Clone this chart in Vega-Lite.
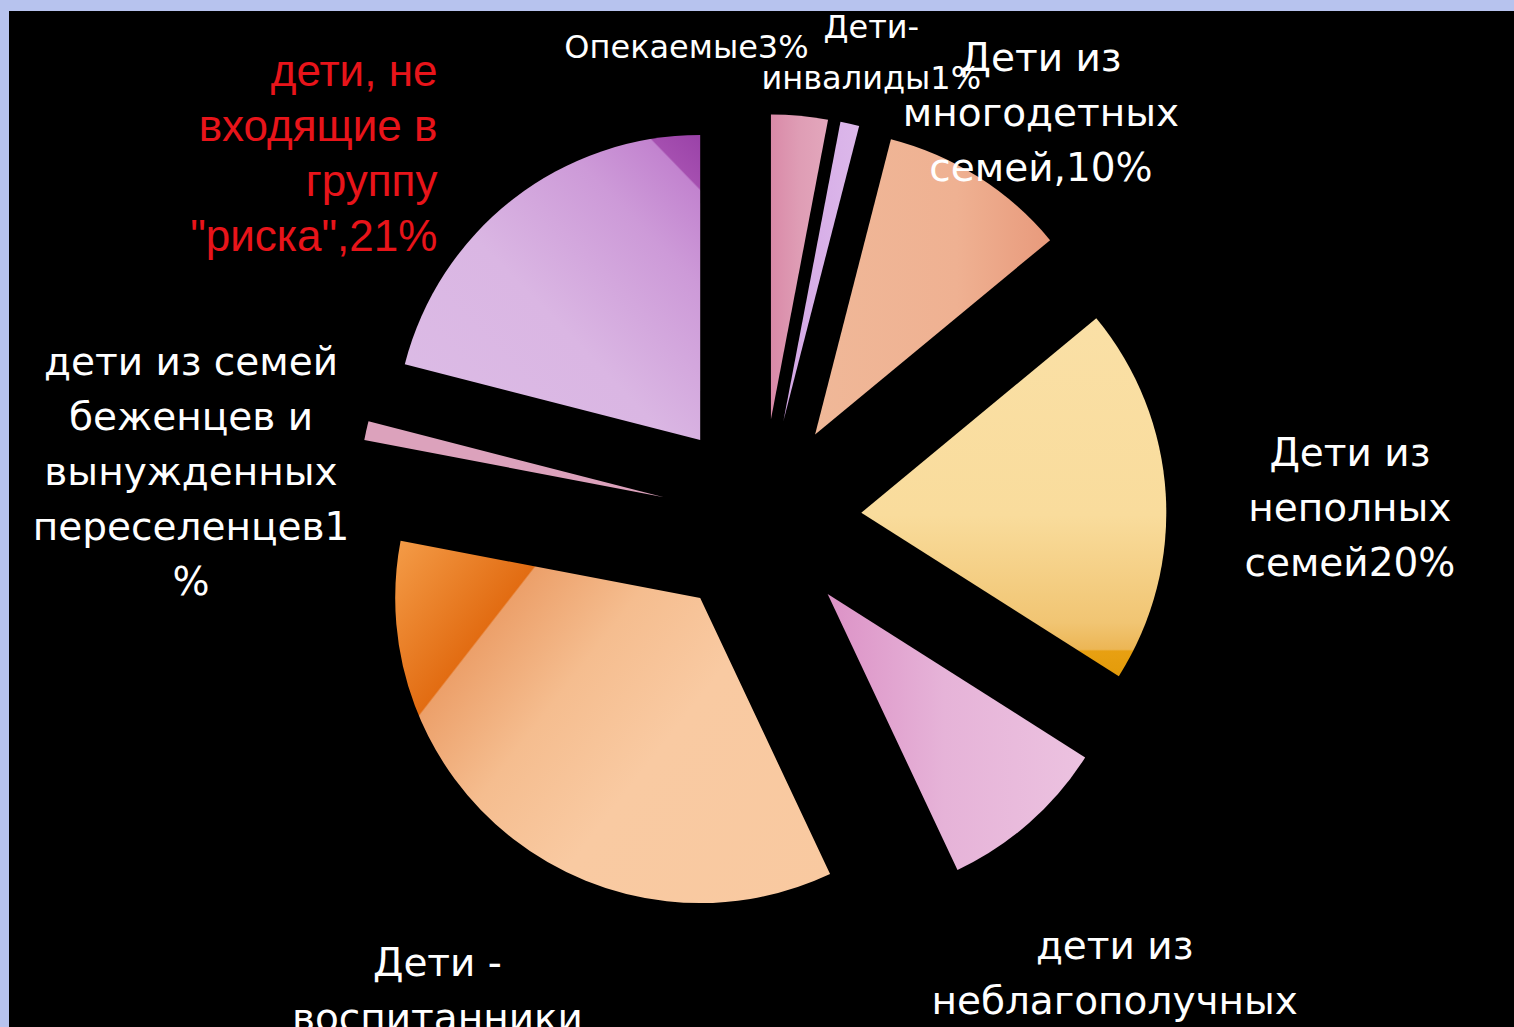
{
  "$schema": "https://vega.github.io/schema/vega-lite/v6.json",
  "width": 1505,
  "height": 1016,
  "autosize": {"type": "none"},
  "padding": {"left": 9, "top": 11, "right": 0, "bottom": 0},
  "background": "#b7c3ee",
  "view": {"fill": "#000000", "stroke": null},
  "config": {"view": {"fill": "#000000", "stroke": null}},
  "data": {
    "values": [
      {"idx": 1, "cat": "Опекаемые", "pct": 3, "label": "Опекаемые3%"},
      {"idx": 2, "cat": "Дети-инвалиды", "pct": 1, "label": "Дети-\nинвалиды1%"},
      {"idx": 3, "cat": "Дети из многодетных семей", "pct": 10, "label": "Дети из\nмногодетных\nсемей,10%"},
      {"idx": 4, "cat": "Дети из неполных семей", "pct": 20, "label": "Дети из\nнеполных\nсемей20%"},
      {"idx": 5, "cat": "дети из неблагополучных семей", "pct": 9, "label": "дети из\nнеблагополучных\nсемей9%"},
      {"idx": 6, "cat": "Дети - воспитанники", "pct": 35, "label": "Дети -\nвоспитанники\n35%"},
      {"idx": 7, "cat": "дети из семей беженцев и вынужденных переселенцев", "pct": 1, "label": "дети из семей\nбеженцев и\nвынужденных\nпереселенцев1\n%"},
      {"idx": 8, "cat": "дети, не входящие в группу \"риска\"", "pct": 21, "label": "дети, не\nвходящие в\nгруппу\n\"риска\",21%"}
    ]
  },
  "encoding": {
    "theta": {"field": "pct", "type": "quantitative", "stack": true},
    "order": {"field": "idx", "type": "quantitative"}
  },
  "layer": [
    {
      "mark": {
        "type": "arc",
        "radius": 305,
        "xOffset": {"expr": "100*sin(PI*(datum.pct_start+datum.pct_end)/100)"},
        "yOffset": {"expr": "-100*cos(PI*(datum.pct_start+datum.pct_end)/100)"},
        "fill": {"expr": "[{gradient:'linear',x1:0,y1:0,x2:1,y2:0,stops:[{offset:0,color:'#d98aa8'},{offset:0.5,color:'#df9db5'},{offset:1,color:'#e3a7bc'}]}, {gradient:'linear',x1:0,y1:0,x2:1,y2:0,stops:[{offset:0,color:'#d4a8e6'},{offset:1,color:'#dcb8ea'}]}, {gradient:'linear',x1:0,y1:0,x2:1,y2:0,stops:[{offset:0,color:'#f0b898'},{offset:0.6,color:'#efb192'},{offset:1,color:'#e89a7c'}]}, {gradient:'linear',x1:0,y1:0,x2:0,y2:1,stops:[{offset:0,color:'#fae0a6'},{offset:0.55,color:'#f9dc9c'},{offset:0.85,color:'#f1c573'},{offset:0.925,color:'#ecb655'},{offset:0.93,color:'#e8a012'},{offset:1,color:'#e39b0a'}]}, {gradient:'linear',x1:0,y1:0.5,x2:1,y2:0.5,stops:[{offset:0,color:'#dc92c6'},{offset:0.45,color:'#e6b3d8'},{offset:1,color:'#ecc2e0'}]}, {gradient:'linear',x1:0,y1:0,x2:1.152,y2:0.747,stops:[{offset:0,color:'#f49c48'},{offset:0.223,color:'#e26c12'},{offset:0.226,color:'#eca06a'},{offset:0.4,color:'#f5bd8f'},{offset:0.6,color:'#f9caa2'},{offset:1,color:'#f9c9a0'}]}, {gradient:'linear',x1:0,y1:0,x2:1,y2:0,stops:[{offset:0,color:'#dca2bc'},{offset:1,color:'#dca2bc'}]}, {gradient:'linear',x1:0,y1:1,x2:1,y2:0,stops:[{offset:0,color:'#dcbce6'},{offset:0.45,color:'#dab6e3'},{offset:0.75,color:'#cd9ad8'},{offset:0.908,color:'#c283cf'},{offset:0.912,color:'#a54fb0'},{offset:1,color:'#9a42a8'}]}][datum.idx-1]"}
      },
      "encoding": {
        "detail": {"field": "cat", "type": "nominal"}
      }
    },
    {
      "mark": {
        "type": "text",
        "lineBreak": "\n",
        "lineHeight": {"expr": "datum.idx == 2 ? 51 : 55"},
        "font": {"expr": "datum.idx == 8 ? 'Liberation Sans' : 'DejaVu Sans'"},
        "align": {"expr": "datum.idx == 1 || datum.idx == 8 ? 'right' : 'center'"},
        "baseline": {"expr": "datum.idx == 1 || datum.idx == 5 || datum.idx == 6 ? 'line-top' : (datum.idx == 2 ? 'middle' : (datum.idx == 3 ? 'bottom' : 'line-bottom'))"},
        "radius": {"expr": "1/sqrt(pow(sin(PI*(datum.pct_start+datum.pct_end)/100)/590,2)+pow(cos(PI*(datum.pct_start+datum.pct_end)/100)/500,2))"}
      },
      "encoding": {
        "text": {"field": "label", "type": "nominal"},
        "size": {"condition": [{"test": "datum.idx <= 2", "value": 32}, {"test": "datum.idx == 8", "value": 44}], "value": 39},
        "color": {"condition": {"test": "datum.idx == 8", "value": "#e8141a"}, "value": "#ffffff"}
      }
    }
  ]
}
